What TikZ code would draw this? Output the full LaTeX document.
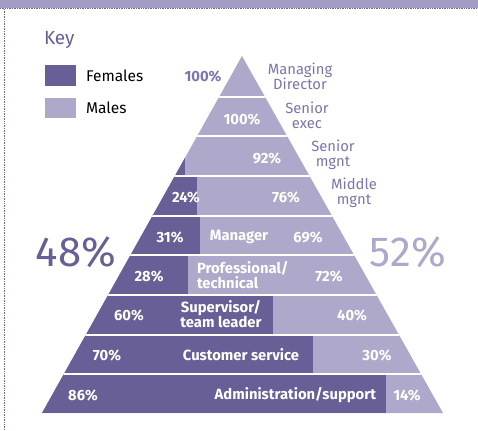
\documentclass[tikz,border=0pt]{standalone}
\usepackage{fontspec}
\setmainfont{Fira Sans}
\begin{document}
\begin{tikzpicture}[x=1pt,y=-1pt,
  inner sep=0pt, outer sep=0pt,
  wlab/.style={text=white, font=\fontsize{14.8}{15}\selectfont\bfseries},
  olab/.style={text=midp, font=\fontsize{14.8}{15}\selectfont, align=center},
  big/.style={font=\fontsize{42}{42}\selectfont}]
\definecolor{darkp}{HTML}{675F96}
\definecolor{lightp}{HTML}{AEA8CA}
\definecolor{barp}{HTML}{A39DC5}
\definecolor{midp}{HTML}{7C75AA}
\definecolor{dotp}{HTML}{6E66A0}
\useasboundingbox (0,0) rectangle (478,430);
% top bar and dotted frame
\fill[barp] (0,0) rectangle (478,8);
\draw[dotp, densely dotted, line width=0.7pt] (0,8.3) -- (478,8.3);
\draw[dotp, densely dotted, line width=0.7pt] (4.5,9) -- (4.5,430);
% pyramid
\coordinate (apex) at (242,56);
\coordinate (bl) at (42,413);
\coordinate (br) at (443,413);
\fill[lightp] (apex) -- (bl) -- (br) -- cycle;
\begin{scope}
\clip (apex) -- (bl) -- (br) -- cycle;
\fill[darkp] (0,135.3) rectangle (185,175);
\fill[darkp] (0,175) rectangle (197,214.7);
\fill[darkp] (0,214.7) rectangle (200,254.3);
\fill[darkp] (0,254.3) rectangle (188,294);
\fill[darkp] (0,294) rectangle (273,333.7);
\fill[darkp] (0,333.7) rectangle (313,373.3);
\fill[darkp] (0,373.3) rectangle (386,413);
\foreach \yy in {96.7,136.3,176,215.7,255.3,295,334.7,374.3}
  \draw[white, line width=1.8pt] (0,\yy) -- (478,\yy);
\end{scope}
% key
\node[text=darkp, font=\fontsize{19}{20}\selectfont, anchor=west] (key) at (44,40) {Key};
\fill[darkp] (45,65) rectangle (76,86);
\fill[lightp] (45,98) rectangle (76,118);
\node[font=\fontsize{15.5}{16}\selectfont, anchor=west] (fem) at (86,76) {Females};
\node[font=\fontsize{15.5}{16}\selectfont, anchor=west] (mal) at (86,108) {Males};
% labels
\node[text=midp, font=\fontsize{14.8}{15}\selectfont\bfseries] (p1) at (203,76) {100\%};
\node[olab] (l1) at (300,76) {Managing\\Director};
\node[wlab] (p2) at (242,119) {100\%};
\node[olab] (l2) at (307,115) {Senior\\exec};
\node[wlab] (p3) at (267,158) {92\%};
\node[olab] (l3) at (333,155) {Senior\\mgnt};
\node[wlab] (p4a) at (186,197) {24\%};
\node[wlab] (p4b) at (286,197) {76\%};
\node[olab] (l4) at (354,193) {Middle\\mgnt};
\node[wlab] (p5a) at (170,237) {31\%};
\node[wlab] (l5) at (239,237) {Manager};
\node[wlab] (p5b) at (308,237) {69\%};
\node[wlab] (p6a) at (149,276) {28\%};
\node[wlab, align=left, anchor=west] (l6) at (197,275.5) {Professional/\\technical};
\node[wlab] (p6b) at (329,276) {72\%};
\node[wlab] (p7a) at (129,315) {60\%};
\node[wlab, align=center] (l7) at (221,314.5) {Supervisor/\\team leader};
\node[wlab] (p7b) at (352,315) {40\%};
\node[wlab] (p8a) at (107,355) {70\%};
\node[wlab] (l8) at (241,355) {Customer service};
\node[wlab] (p8b) at (377,355) {30\%};
\node[wlab] (p9a) at (83,395) {86\%};
\node[wlab, anchor=east] (l9) at (376,395) {Administration/support};
\node[wlab] (p9b) at (407,395) {14\%};
\node[big, text=darkp] (f48) at (76,252) {48\%};
\node[big, text=lightp] (m52) at (408,252) {52\%};
\end{tikzpicture}
\end{document}
